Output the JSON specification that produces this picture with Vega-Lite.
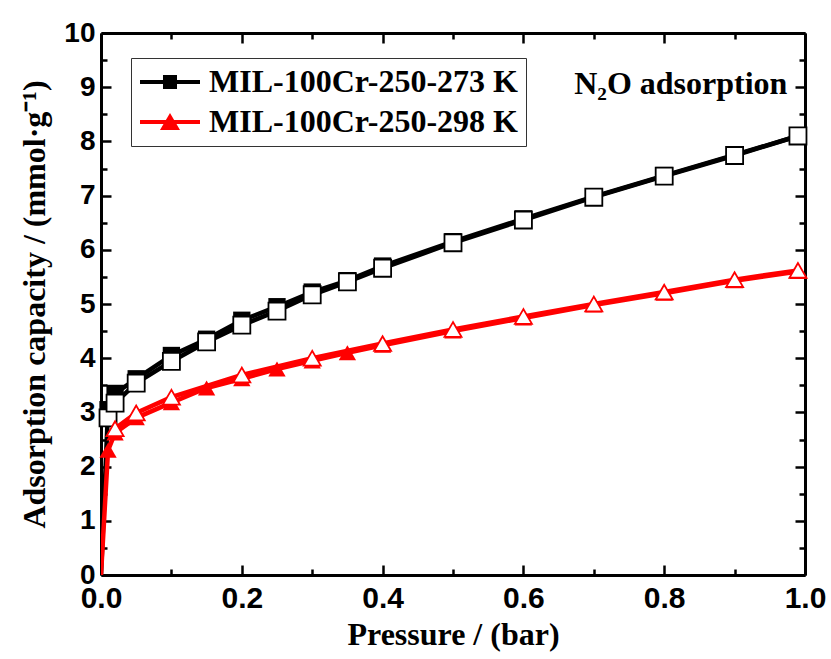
{
  "$schema": "https://vega.github.io/schema/vega-lite/v6.json",
  "width": 704,
  "height": 542,
  "autosize": "none",
  "padding": {"left": 101, "top": 33, "right": 26, "bottom": 84},
  "background": "white",
  "config": {
    "view": {"stroke": null},
    "axis": {
      "domainColor": "black",
      "domainWidth": 3,
      "tickColor": "black",
      "tickWidth": 2.5,
      "grid": false,
      "labelFont": "Liberation Sans",
      "labelFontWeight": "bold",
      "labelColor": "black",
      "titleFont": "Liberation Serif",
      "titleFontWeight": "bold",
      "titleColor": "black"
    }
  },
  "datasets": {
    "iso": [
      {"series": "MIL-100Cr-250-273 K", "branch": "ads", "p": 0.0, "q": 0.0},
      {"series": "MIL-100Cr-250-273 K", "branch": "ads", "p": 0.01, "q": 3.05},
      {"series": "MIL-100Cr-250-273 K", "branch": "ads", "p": 0.02, "q": 3.35},
      {"series": "MIL-100Cr-250-273 K", "branch": "ads", "p": 0.05, "q": 3.62},
      {"series": "MIL-100Cr-250-273 K", "branch": "ads", "p": 0.1, "q": 4.05},
      {"series": "MIL-100Cr-250-273 K", "branch": "ads", "p": 0.15, "q": 4.35},
      {"series": "MIL-100Cr-250-273 K", "branch": "ads", "p": 0.2, "q": 4.7},
      {"series": "MIL-100Cr-250-273 K", "branch": "ads", "p": 0.25, "q": 4.95},
      {"series": "MIL-100Cr-250-273 K", "branch": "ads", "p": 0.3, "q": 5.22},
      {"series": "MIL-100Cr-250-273 K", "branch": "ads", "p": 0.35, "q": 5.43},
      {"series": "MIL-100Cr-250-273 K", "branch": "ads", "p": 0.4, "q": 5.7},
      {"series": "MIL-100Cr-250-273 K", "branch": "ads", "p": 0.5, "q": 6.15},
      {"series": "MIL-100Cr-250-273 K", "branch": "ads", "p": 0.6, "q": 6.57},
      {"series": "MIL-100Cr-250-273 K", "branch": "ads", "p": 0.7, "q": 6.98},
      {"series": "MIL-100Cr-250-273 K", "branch": "ads", "p": 0.8, "q": 7.37},
      {"series": "MIL-100Cr-250-273 K", "branch": "ads", "p": 0.9, "q": 7.75},
      {"series": "MIL-100Cr-250-273 K", "branch": "ads", "p": 0.99, "q": 8.1},
      {"series": "MIL-100Cr-250-273 K", "branch": "des", "p": 0.01, "q": 2.9},
      {"series": "MIL-100Cr-250-273 K", "branch": "des", "p": 0.02, "q": 3.17},
      {"series": "MIL-100Cr-250-273 K", "branch": "des", "p": 0.05, "q": 3.54},
      {"series": "MIL-100Cr-250-273 K", "branch": "des", "p": 0.1, "q": 3.94},
      {"series": "MIL-100Cr-250-273 K", "branch": "des", "p": 0.15, "q": 4.3},
      {"series": "MIL-100Cr-250-273 K", "branch": "des", "p": 0.2, "q": 4.61},
      {"series": "MIL-100Cr-250-273 K", "branch": "des", "p": 0.25, "q": 4.87},
      {"series": "MIL-100Cr-250-273 K", "branch": "des", "p": 0.3, "q": 5.17},
      {"series": "MIL-100Cr-250-273 K", "branch": "des", "p": 0.35, "q": 5.41},
      {"series": "MIL-100Cr-250-273 K", "branch": "des", "p": 0.4, "q": 5.66},
      {"series": "MIL-100Cr-250-273 K", "branch": "des", "p": 0.5, "q": 6.13},
      {"series": "MIL-100Cr-250-273 K", "branch": "des", "p": 0.6, "q": 6.55},
      {"series": "MIL-100Cr-250-273 K", "branch": "des", "p": 0.7, "q": 6.97},
      {"series": "MIL-100Cr-250-273 K", "branch": "des", "p": 0.8, "q": 7.36},
      {"series": "MIL-100Cr-250-273 K", "branch": "des", "p": 0.9, "q": 7.74},
      {"series": "MIL-100Cr-250-273 K", "branch": "des", "p": 0.99, "q": 8.1},
      {"series": "MIL-100Cr-250-298 K", "branch": "ads", "p": 0.0, "q": 0.0},
      {"series": "MIL-100Cr-250-298 K", "branch": "ads", "p": 0.01, "q": 2.3},
      {"series": "MIL-100Cr-250-298 K", "branch": "ads", "p": 0.02, "q": 2.62},
      {"series": "MIL-100Cr-250-298 K", "branch": "ads", "p": 0.05, "q": 2.9},
      {"series": "MIL-100Cr-250-298 K", "branch": "ads", "p": 0.1, "q": 3.18},
      {"series": "MIL-100Cr-250-298 K", "branch": "ads", "p": 0.15, "q": 3.45},
      {"series": "MIL-100Cr-250-298 K", "branch": "ads", "p": 0.2, "q": 3.62},
      {"series": "MIL-100Cr-250-298 K", "branch": "ads", "p": 0.25, "q": 3.8},
      {"series": "MIL-100Cr-250-298 K", "branch": "ads", "p": 0.3, "q": 3.95},
      {"series": "MIL-100Cr-250-298 K", "branch": "ads", "p": 0.35, "q": 4.1},
      {"series": "MIL-100Cr-250-298 K", "branch": "ads", "p": 0.4, "q": 4.24},
      {"series": "MIL-100Cr-250-298 K", "branch": "ads", "p": 0.5, "q": 4.5},
      {"series": "MIL-100Cr-250-298 K", "branch": "ads", "p": 0.6, "q": 4.74},
      {"series": "MIL-100Cr-250-298 K", "branch": "ads", "p": 0.7, "q": 4.98},
      {"series": "MIL-100Cr-250-298 K", "branch": "ads", "p": 0.8, "q": 5.2},
      {"series": "MIL-100Cr-250-298 K", "branch": "ads", "p": 0.9, "q": 5.43},
      {"series": "MIL-100Cr-250-298 K", "branch": "ads", "p": 0.99, "q": 5.6},
      {"series": "MIL-100Cr-250-298 K", "branch": "des", "p": 0.02, "q": 2.7},
      {"series": "MIL-100Cr-250-298 K", "branch": "des", "p": 0.05, "q": 2.99},
      {"series": "MIL-100Cr-250-298 K", "branch": "des", "p": 0.1, "q": 3.28},
      {"series": "MIL-100Cr-250-298 K", "branch": "des", "p": 0.2, "q": 3.69},
      {"series": "MIL-100Cr-250-298 K", "branch": "des", "p": 0.3, "q": 4.0},
      {"series": "MIL-100Cr-250-298 K", "branch": "des", "p": 0.4, "q": 4.27},
      {"series": "MIL-100Cr-250-298 K", "branch": "des", "p": 0.5, "q": 4.53},
      {"series": "MIL-100Cr-250-298 K", "branch": "des", "p": 0.6, "q": 4.77},
      {"series": "MIL-100Cr-250-298 K", "branch": "des", "p": 0.7, "q": 5.0},
      {"series": "MIL-100Cr-250-298 K", "branch": "des", "p": 0.8, "q": 5.22},
      {"series": "MIL-100Cr-250-298 K", "branch": "des", "p": 0.9, "q": 5.45},
      {"series": "MIL-100Cr-250-298 K", "branch": "des", "p": 0.99, "q": 5.62}
    ]
  },
  "data": {"name": "iso"},
  "resolve": {
    "axis": {"x": "independent", "y": "independent"},
    "scale": {"shape": "independent", "color": "independent"},
    "legend": {"shape": "independent", "color": "independent"}
  },
  "layer": [
    {
      "mark": {"type": "line", "strokeWidth": 4.5, "clip": true},
      "encoding": {
        "x": {
          "field": "p", "type": "quantitative",
          "scale": {"domain": [0, 1], "nice": false},
          "axis": {
            "orient": "bottom",
            "values": [0, 0.2, 0.4, 0.6, 0.8, 1.0],
            "format": ".1f",
            "tickSize": -10,
            "labelPadding": 18,
            "labelFontSize": 30,
            "labelFlush": false,
            "title": "Pressure / (bar)",
            "titleFontSize": 32,
            "titlePadding": 6
          }
        },
        "y": {
          "field": "q", "type": "quantitative",
          "scale": {"domain": [0, 10], "nice": false},
          "axis": {
            "orient": "left",
            "values": [0, 1, 2, 3, 4, 5, 6, 7, 8, 9, 10],
            "tickSize": -10,
            "labelPadding": 16,
            "labelFontSize": 28,
            "labelFlush": false,
            "title": "Adsorption capacity / (mmol·g⁻¹)",
            "titleFontSize": 32,
            "titlePadding": 12
          }
        },
        "color": {
          "field": "series", "type": "nominal",
          "scale": {"domain": ["MIL-100Cr-250-273 K", "MIL-100Cr-250-298 K"], "range": ["#000000", "#ff0000"]},
          "legend": null
        },
        "detail": {"field": "branch"}
      }
    },
    {
      "transform": [{"filter": "datum.branch === 'ads' && datum.p > 0"}],
      "mark": {"type": "point", "filled": true, "opacity": 1, "size": 300},
      "encoding": {
        "x": {
          "field": "p", "type": "quantitative",
          "axis": {
            "orient": "bottom",
            "values": [0.1, 0.3, 0.5, 0.7, 0.9],
            "tickSize": -6,
            "labels": false,
            "domain": false,
            "title": null
          }
        },
        "y": {
          "field": "q", "type": "quantitative",
          "axis": {
            "orient": "left",
            "values": [0.5, 1.5, 2.5, 3.5, 4.5, 5.5, 6.5, 7.5, 8.5, 9.5],
            "tickSize": -6,
            "labels": false,
            "domain": false,
            "title": null
          }
        },
        "color": {
          "field": "series", "type": "nominal",
          "scale": {"domain": ["MIL-100Cr-250-273 K", "MIL-100Cr-250-298 K"], "range": ["#000000", "#ff0000"]},
          "legend": null
        },
        "shape": {
          "field": "series", "type": "nominal",
          "scale": {"domain": ["MIL-100Cr-250-273 K", "MIL-100Cr-250-298 K"], "range": ["square", "triangle-up"]},
          "legend": null
        }
      }
    },
    {
      "transform": [{"filter": "datum.branch === 'des'"}],
      "mark": {"type": "point", "filled": false, "fill": "white", "fillOpacity": 1, "opacity": 1, "size": 290, "strokeWidth": 1.8},
      "encoding": {
        "x": {
          "field": "p", "type": "quantitative",
          "axis": {
            "orient": "top",
            "values": [0, 0.2, 0.4, 0.6, 0.8, 1.0],
            "tickSize": -10,
            "labels": false,
            "title": null
          }
        },
        "y": {
          "field": "q", "type": "quantitative",
          "axis": {
            "orient": "right",
            "values": [0, 1, 2, 3, 4, 5, 6, 7, 8, 9, 10],
            "tickSize": -10,
            "labels": false,
            "title": null
          }
        },
        "color": {
          "field": "series", "type": "nominal",
          "scale": {"domain": ["MIL-100Cr-250-273 K", "MIL-100Cr-250-298 K"], "range": ["#000000", "#ff0000"]},
          "legend": null
        },
        "shape": {
          "field": "series", "type": "nominal",
          "scale": {"domain": ["MIL-100Cr-250-273 K", "MIL-100Cr-250-298 K"], "range": ["square", "triangle-up"]},
          "legend": null
        }
      }
    },
    {
      "transform": [{"filter": "datum.branch === 'ads' && datum.p > 0.98"}],
      "mark": {"type": "point", "filled": true, "opacity": 0},
      "encoding": {
        "x": {
          "field": "p", "type": "quantitative",
          "axis": {
            "orient": "top",
            "values": [0.1, 0.3, 0.5, 0.7, 0.9],
            "tickSize": -6,
            "labels": false,
            "domain": false,
            "title": null
          }
        },
        "y": {
          "field": "q", "type": "quantitative",
          "axis": {
            "orient": "right",
            "values": [0.5, 1.5, 2.5, 3.5, 4.5, 5.5, 6.5, 7.5, 8.5, 9.5],
            "tickSize": -6,
            "labels": false,
            "domain": false,
            "title": null
          }
        },
        "color": {
          "field": "series", "type": "nominal",
          "scale": {"domain": ["MIL-100Cr-250-273 K", "MIL-100Cr-250-298 K"], "range": ["#000000", "#ff0000"]},
          "legend": {
            "title": null,
            "orient": "none",
            "legendX": 30,
            "legendY": 25,
            "strokeColor": "#333333",
            "fillColor": "white",
            "padding": 8,
            "symbolSize": 900,
            "symbolOpacity": 1,
            "symbolStrokeWidth": 0,
            "labelFont": "Liberation Serif",
            "labelFontWeight": "bold",
            "labelFontSize": 32,
            "labelColor": "black",
            "labelOffset": 38,
            "labelLimit": 600,
            "rowPadding": 8
          }
        },
        "shape": {
          "field": "series", "type": "nominal",
          "scale": {
            "domain": ["MIL-100Cr-250-273 K", "MIL-100Cr-250-298 K"],
            "range": [
              "M-1,-0.133H3V0.133H-1Z M0.533,-0.467H1.467V0.467H0.533Z",
              "M-1,-0.133H3V0.133H-1Z M1,-0.6L1.667,0.53L0.333,0.53Z"
            ]
          },
          "legend": {
            "title": null,
            "orient": "none",
            "legendX": 30,
            "legendY": 25,
            "strokeColor": "#333333",
            "fillColor": "white",
            "padding": 8,
            "symbolSize": 900,
            "symbolOpacity": 1,
            "symbolStrokeWidth": 0,
            "labelFont": "Liberation Serif",
            "labelFontWeight": "bold",
            "labelFontSize": 32,
            "labelColor": "black",
            "labelOffset": 38,
            "labelLimit": 600,
            "rowPadding": 8
          }
        }
      }
    },
    {
      "data": {"values": [{"label": "N₂O adsorption"}]},
      "mark": {
        "type": "text",
        "font": "Liberation Serif",
        "fontWeight": "bold",
        "fontSize": 32,
        "align": "right",
        "baseline": "middle",
        "color": "black"
      },
      "encoding": {
        "text": {"field": "label"},
        "x": {"datum": 0.975, "type": "quantitative", "axis": null},
        "y": {"datum": 9.06, "type": "quantitative", "axis": null}
      }
    }
  ]
}
